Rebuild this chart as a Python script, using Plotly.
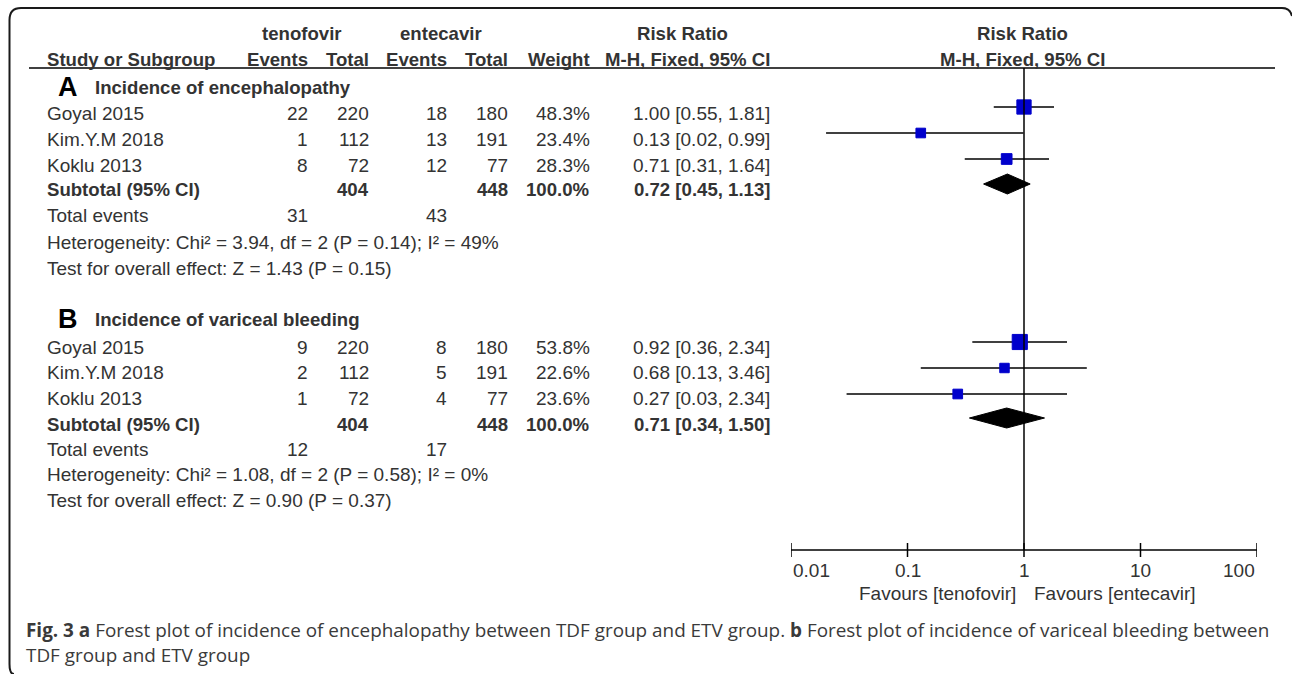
import math
import plotly.graph_objects as go

W, H = 1292, 674

# ---------------- data ----------------
studies = ["Goyal 2015", "Kim.Y.M 2018", "Koklu 2013"]

a_title = "Incidence of encephalopathy"
a_tdf_events = [22, 1, 8]
a_tdf_total = [220, 112, 72]
a_etv_events = [18, 13, 12]
a_etv_total = [180, 191, 77]
a_weight = [48.3, 23.4, 28.3]
a_rr = [1.00, 0.13, 0.71]
a_lo = [0.55, 0.02, 0.31]
a_hi = [1.81, 0.99, 1.64]
a_sub_rr, a_sub_lo, a_sub_hi = 0.72, 0.45, 1.13
a_sub_tdf_total, a_sub_etv_total = 404, 448
a_tot_tdf_events, a_tot_etv_events = 31, 43
a_het = "Heterogeneity: Chi\u00b2 = 3.94, df = 2 (P = 0.14); I\u00b2 = 49%"
a_test = "Test for overall effect: Z = 1.43 (P = 0.15)"

b_title = "Incidence of variceal bleeding"
b_tdf_events = [9, 2, 1]
b_tdf_total = [220, 112, 72]
b_etv_events = [8, 5, 4]
b_etv_total = [180, 191, 77]
b_weight = [53.8, 22.6, 23.6]
b_rr = [0.92, 0.68, 0.27]
b_lo = [0.36, 0.13, 0.03]
b_hi = [2.34, 3.46, 2.34]
b_sub_rr, b_sub_lo, b_sub_hi = 0.71, 0.34, 1.50
b_sub_tdf_total, b_sub_etv_total = 404, 448
b_tot_tdf_events, b_tot_etv_events = 12, 17
b_het = "Heterogeneity: Chi\u00b2 = 1.08, df = 2 (P = 0.58); I\u00b2 = 0%"
b_test = "Test for overall effect: Z = 0.90 (P = 0.37)"

tick_vals = [0.01, 0.1, 1, 10, 100]
tick_labels = ["0.01", "0.1", "1", "10", "100"]
favours_left = "Favours [tenofovir]"
favours_right = "Favours [entecavir]"

caption_l1 = ("<b>Fig. 3 a</b> Forest plot of incidence of encephalopathy between TDF group and ETV group. "
              "<b>b</b> Forest plot of incidence of variceal bleeding between")
caption_l2 = "TDF group and ETV group"

# ---------------- layout (pixel positions) ----------------
FONT = "Liberation Sans, Arial, sans-serif"
TXT = "#333333"
NS, BS = 19, 18.6
col = dict(name=45, ten_ev=310, ten_tot=371, etv_ev=449, etv_tot=510, wt=592, rr=772)

groups = [
    dict(letter="A", title=a_title, ev1=a_tdf_events, n1=a_tdf_total, ev2=a_etv_events, n2=a_etv_total,
         w=a_weight, rr=a_rr, lo=a_lo, hi=a_hi, srr=a_sub_rr, slo=a_sub_lo, shi=a_sub_hi,
         sn1=a_sub_tdf_total, sn2=a_sub_etv_total, te1=a_tot_tdf_events, te2=a_tot_etv_events,
         het=a_het, test=a_test,
         y_title=87, y_rows=[113, 139, 165], y_sub=189, y_te=215, y_het=242, y_test=268,
         y_mk=[107, 133, 159], y_dia=184),
    dict(letter="B", title=b_title, ev1=b_tdf_events, n1=b_tdf_total, ev2=b_etv_events, n2=b_etv_total,
         w=b_weight, rr=b_rr, lo=b_lo, hi=b_hi, srr=b_sub_rr, slo=b_sub_lo, shi=b_sub_hi,
         sn1=b_sub_tdf_total, sn2=b_sub_etv_total, te1=b_tot_tdf_events, te2=b_tot_etv_events,
         het=b_het, test=b_test,
         y_title=319, y_rows=[347, 372, 398], y_sub=424, y_te=449, y_het=474, y_test=500,
         y_mk=[342, 368, 394], y_dia=418),
]

annotations = []


def txt(xpx, ypx, text, anchor="left", bold=False, size=None, color=TXT, font=FONT):
    if size is None:
        size = BS if bold else NS
    annotations.append(dict(
        xref="paper", yref="y", x=xpx / W, y=ypx, text=("<b>%s</b>" % text) if bold else text,
        xanchor=anchor, yanchor="middle", showarrow=False,
        font=dict(family=font, size=size, color=color)))


# header
txt(302, 33, "tenofovir", "center", bold=True)
txt(441, 33, "entecavir", "center", bold=True)
txt(682, 33, "Risk Ratio", "center", bold=True)
txt(1022, 33, "Risk Ratio", "center", bold=True)
txt(col["name"], 59, "Study or Subgroup", "left", bold=True)
txt(col["ten_ev"], 59, "Events", "right", bold=True)
txt(col["ten_tot"], 59, "Total", "right", bold=True)
txt(col["etv_ev"], 59, "Events", "right", bold=True)
txt(col["etv_tot"], 59, "Total", "right", bold=True)
txt(col["wt"], 59, "Weight", "right", bold=True)
txt(col["rr"], 59, "M-H, Fixed, 95% CI", "right", bold=True)
txt(1022, 59, "M-H, Fixed, 95% CI", "center", bold=True)

fig = go.Figure()

for g in groups:
    txt(56, g["y_title"], "<b>%s</b>" % g["letter"], "left", size=27, color="#000000")
    txt(93, g["y_title"], g["title"], "left", bold=True)
    for i, s in enumerate(studies):
        y = g["y_rows"][i]
        txt(col["name"], y, s)
        txt(col["ten_ev"], y, str(g["ev1"][i]), "right")
        txt(col["ten_tot"], y, str(g["n1"][i]), "right")
        txt(col["etv_ev"], y, str(g["ev2"][i]), "right")
        txt(col["etv_tot"], y, str(g["n2"][i]), "right")
        txt(col["wt"], y, "%.1f%%" % g["w"][i], "right")
        txt(col["rr"], y, "%.2f [%.2f, %.2f]" % (g["rr"][i], g["lo"][i], g["hi"][i]), "right")
    y = g["y_sub"]
    txt(col["name"], y, "Subtotal (95% CI)", bold=True)
    txt(col["ten_tot"], y, str(g["sn1"]), "right", bold=True)
    txt(col["etv_tot"], y, str(g["sn2"]), "right", bold=True)
    txt(col["wt"], y, "100.0%", "right", bold=True)
    txt(col["rr"], y, "%.2f [%.2f, %.2f]" % (g["srr"], g["slo"], g["shi"]), "right", bold=True)
    txt(col["name"], g["y_te"], "Total events")
    txt(col["ten_ev"], g["y_te"], str(g["te1"]), "right")
    txt(col["etv_ev"], g["y_te"], str(g["te2"]), "right")
    txt(col["name"], g["y_het"], g["het"])
    txt(col["name"], g["y_test"], g["test"])

    # CI whiskers
    xs, ys = [], []
    for i in range(len(studies)):
        xs += [g["lo"][i], g["hi"][i], None]
        ys += [g["y_mk"][i], g["y_mk"][i], None]
    fig.add_trace(go.Scatter(x=xs, y=ys, mode="lines", line=dict(color="#000000", width=1.5),
                             hoverinfo="skip", showlegend=False))
    # weight squares
    fig.add_trace(go.Scatter(x=g["rr"], y=g["y_mk"], mode="markers",
                             marker=dict(symbol="square", color="#0000cc", opacity=1,
                                         size=[2.2 * math.sqrt(w) - 1 for w in g["w"]],
                                         line=dict(width=1, color="#0000cc")),
                             hoverinfo="skip", showlegend=False))
    # subtotal diamond
    yd = g["y_dia"]
    fig.add_trace(go.Scatter(x=[g["slo"], g["srr"], g["shi"], g["srr"], g["slo"]],
                             y=[yd, yd - 10, yd, yd + 10, yd], mode="lines", fill="toself",
                             fillcolor="#000000", line=dict(color="#000000", width=1),
                             hoverinfo="skip", showlegend=False))

# line of no effect
fig.add_trace(go.Scatter(x=[1, 1], y=[68, 550], mode="lines", line=dict(color="#000000", width=1.5),
                         hoverinfo="skip", showlegend=False))
# axis line and ticks
fig.add_trace(go.Scatter(x=[tick_vals[0], tick_vals[-1]], y=[550, 550], mode="lines",
                         line=dict(color="#000000", width=1.5), hoverinfo="skip", showlegend=False))
tx, ty = [], []
for v in tick_vals:
    tx += [v, v, None]
    ty += [543, 557, None]
fig.add_trace(go.Scatter(x=tx, y=ty, mode="lines", line=dict(color="#000000", width=1.5),
                         hoverinfo="skip", showlegend=False))
for i, (v, lab) in enumerate(zip(tick_vals, tick_labels)):
    anc = "left" if i == 0 else ("right" if i == len(tick_vals) - 1 else "center")
    annotations.append(dict(xref="x", yref="y", x=math.log10(v), y=570, text=lab, xanchor=anc,
                            yanchor="middle", showarrow=False, font=dict(family=FONT, size=NS, color=TXT)))
annotations.append(dict(xref="x", yref="y", x=0, y=593, text=favours_left, xanchor="right", xshift=-6,
                        yanchor="middle", showarrow=False, font=dict(family=FONT, size=NS, color=TXT)))
annotations.append(dict(xref="x", yref="y", x=0, y=593, text=favours_right, xanchor="left", xshift=8,
                        yanchor="middle", showarrow=False, font=dict(family=FONT, size=NS, color=TXT)))

# caption
CAP = "Open Sans, Noto Sans, sans-serif"
txt(24, 630, caption_l1, "left", size=18.9, color="#3a3a3a", font=CAP)
txt(24, 655, caption_l2, "left", size=18.9, color="#3a3a3a", font=CAP)

shapes = [
    # header rule
    dict(type="line", xref="paper", yref="y", x0=29 / W, x1=1275 / W, y0=68, y1=68,
         line=dict(color="#000000", width=1.5)),
    # rounded frame
    dict(type="path", xref="paper", yref="y",
         path=("M %f,674 Q %f,674 %f,664 L %f,20 Q %f,8 %f,8 L %f,8 Q %f,8 %f,16" %
               (14 / W, 9.5 / W, 9.5 / W, 9.5 / W, 9.5 / W, 21 / W, 1282 / W, 1290 / W, 1292 / W)),
         line=dict(color="#1a1a1a", width=2)),
]

fig.update_layout(
    width=W, height=H, autosize=False,
    margin=dict(l=0, r=0, t=0, b=0, pad=0),
    paper_bgcolor="#ffffff", plot_bgcolor="#ffffff",
    xaxis=dict(type="log", range=[-2, 2], domain=[791 / W, 1257 / W], visible=False, fixedrange=True),
    yaxis=dict(range=[H, 0], domain=[0, 1], visible=False, fixedrange=True),
    annotations=annotations, shapes=shapes, showlegend=False,
)

fig.write_html("out.html", config={"displayModeBar": False, "staticPlot": True},
               post_script="document.body.style.margin='0';document.body.style.overflow='hidden';")
